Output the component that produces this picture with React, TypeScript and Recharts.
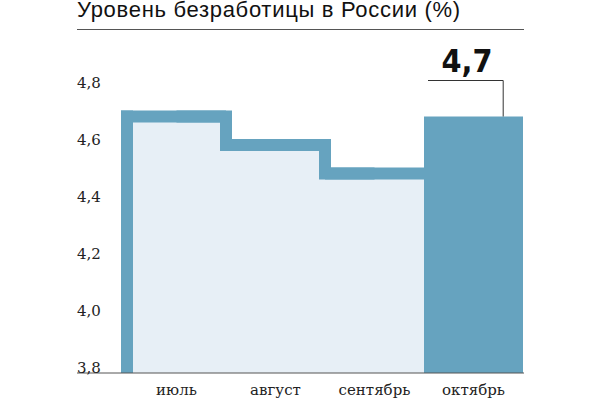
import React from 'react';
import { ComposedChart, Bar, Line, XAxis, YAxis } from 'recharts';

const months = ['июль', 'август', 'сентябрь', 'октябрь'];
const rates = [4.7, 4.6, 4.5, 4.7];
const yTicks = [3.8, 4.0, 4.2, 4.4, 4.6, 4.8];

const DARK = '#66a3bf';
const LIGHT = '#e7eff6';
const SERIF = '"DejaVu Serif", serif';

const fmt = (v: number) => v.toFixed(1).replace('.', ',');

// last month is the highlighted one, the others get the stepped outline
const data = months.map((month, i) => ({
  month,
  rate: rates[i],
  outline: i < months.length - 1 ? rates[i] : null,
}));

const StepBar = (props: any) => {
  const { x, y, width, height, index, payload } = props;
  if (index === months.length - 1) {
    const lx = x + width * 0.8;
    return (
      <g>
        <rect x={x} y={y} width={width} height={height} fill={DARK} />
        <polyline
          points={`${x + 4},${y - 36} ${lx},${y - 36} ${lx},${y}`}
          fill="none"
          stroke="#333"
          strokeWidth={1}
        />
        <text
          x={x + width * 0.435}
          y={y - 45}
          textAnchor="middle"
          fontFamily='"Liberation Sans Narrow", "DejaVu Sans Condensed", sans-serif'
          fontWeight="bold"
          fontSize={32}
          letterSpacing={0}
          fill="#111"
        >
          {fmt(payload.rate)}
        </text>
      </g>
    );
  }
  return (
    <g>
      <rect x={x} y={y} width={width} height={height} fill={LIGHT} />
      <line x1={x - (index === 0 ? 6 : 0)} y1={y} x2={x + width} y2={y} stroke={DARK} strokeWidth={12} />
      {index === 0 && <line x1={x} y1={y - 6} x2={x} y2={y + height} stroke={DARK} strokeWidth={12} />}
    </g>
  );
};

const YTick = (props: any) => {
  const { y, payload } = props;
  return (
    <text x={77} y={y} textAnchor="start" fontFamily={SERIF} fontSize={15} fill="#222">
      {fmt(payload.value)}
    </text>
  );
};

export default function App() {
  return (
    <div style={{ position: 'absolute', left: 0, top: 0, width: 600, height: 399, background: '#fff' }}>
      <div
        style={{
          position: 'absolute',
          left: 77,
          top: 0,
          fontFamily: '"Liberation Sans", Arial, sans-serif',
          fontSize: 22,
          lineHeight: '20px',
          letterSpacing: 0.7,
          color: '#111',
          whiteSpace: 'nowrap',
        }}
      >
        Уровень безработицы в России (%)
      </div>
      <div style={{ position: 'absolute', left: 77, top: 29, width: 447, height: 1, background: '#555' }} />
      <ComposedChart
        width={600}
        height={399}
        data={data}
        margin={{ top: 88, right: 76, bottom: 0, left: 27 }}
        barCategoryGap={0}
        barGap={0}
      >
        <XAxis
          dataKey="month"
          height={26}
          padding={{ left: 50, right: 1 }}
          tickLine={false}
          tickMargin={5}
          axisLine={{ stroke: '#555' }}
          tick={{ fontFamily: SERIF, fontSize: 15, fill: '#222' }}
          interval={0}
        />
        <YAxis
          type="number"
          domain={[3.8, 4.8]}
          ticks={yTicks}
          width={50}
          axisLine={false}
          tickLine={false}
          tick={<YTick />}
          interval={0}
        />
        <Bar dataKey="rate" shape={<StepBar />} isAnimationActive={false} />
        <Line
          dataKey="outline"
          type="step"
          stroke={DARK}
          strokeWidth={12}
          dot={false}
          activeDot={false}
          isAnimationActive={false}
        />
      </ComposedChart>
    </div>
  );
}
